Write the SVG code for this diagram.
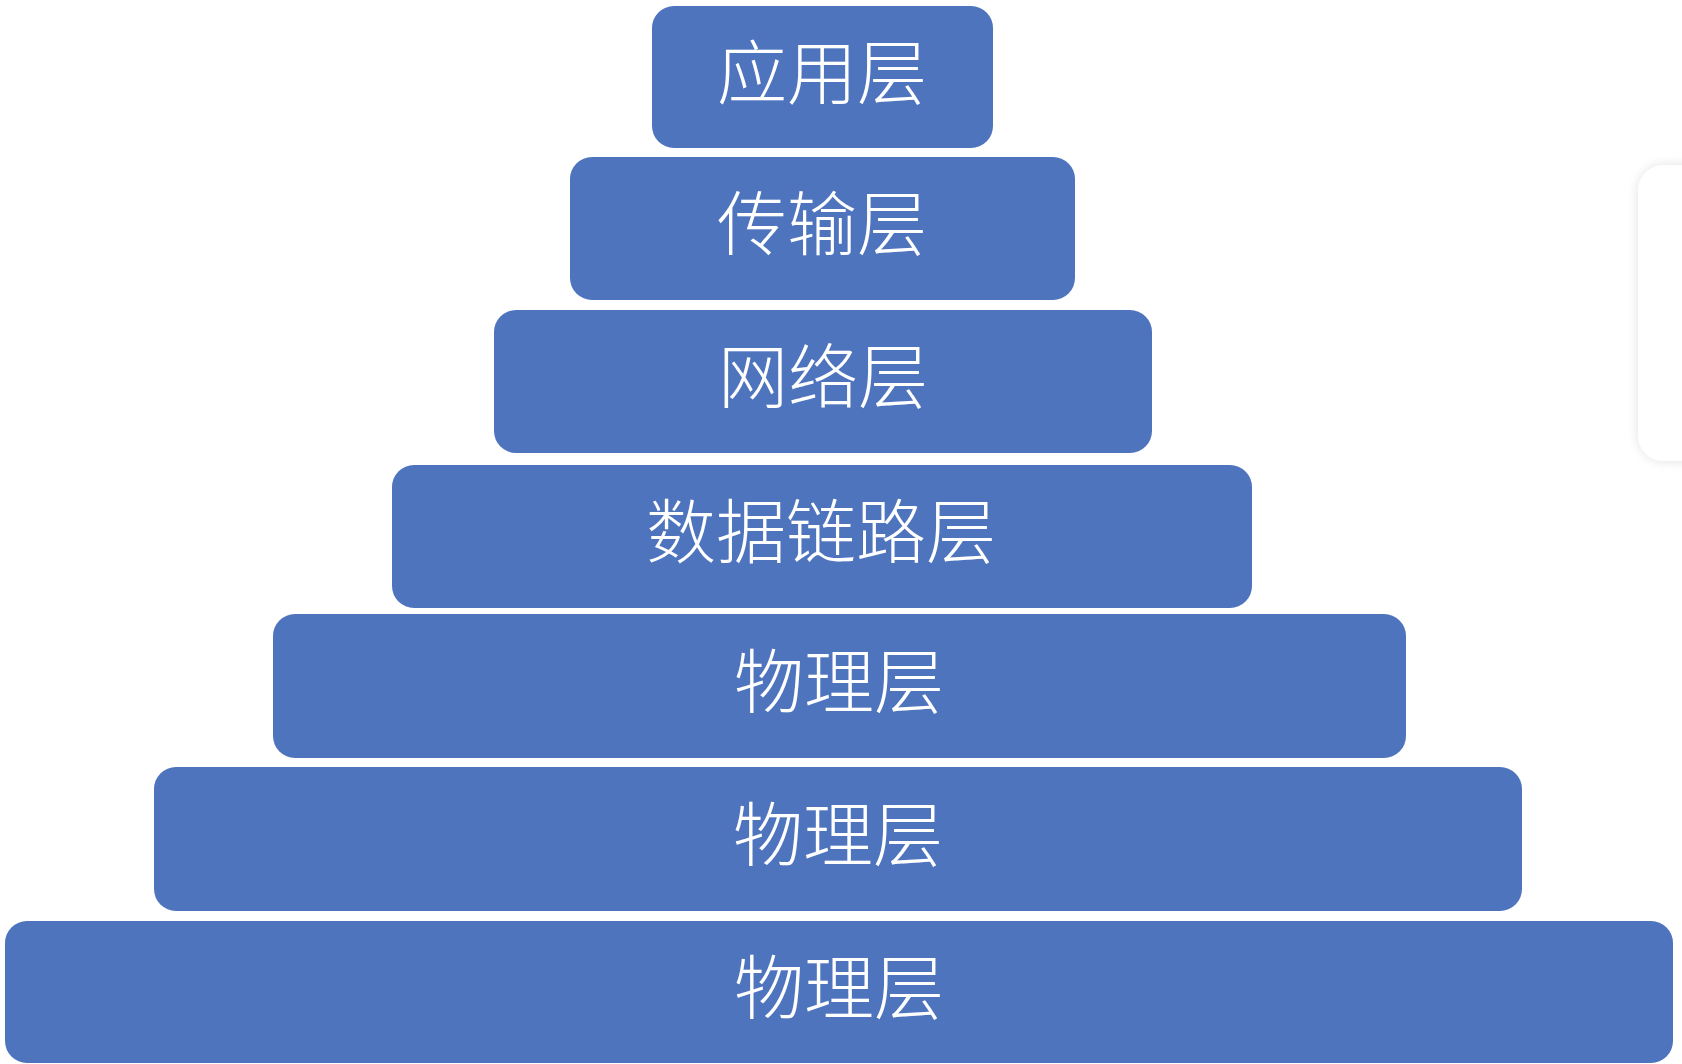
<svg xmlns="http://www.w3.org/2000/svg" width="1682" height="1064" viewBox="0 0 1682 1064">
<style>
.layer{fill:#4E74BE;}
.lbl{fill:#ffffff;font-family:"Noto Sans CJK SC","Noto Sans",sans-serif;font-size:70px;font-weight:300;text-anchor:middle;}
</style>
<defs>
<filter id="sh" x="-20%" y="-20%" width="140%" height="140%">
<feGaussianBlur in="SourceAlpha" stdDeviation="6"/>
<feComponentTransfer><feFuncA type="linear" slope="0.12"/></feComponentTransfer>
<feMerge><feMergeNode/><feMergeNode in="SourceGraphic"/></feMerge>
</filter>
</defs>
<rect x="0" y="0" width="1682" height="1064" fill="#ffffff"/>
<rect x="1638" y="165" width="80" height="296" rx="26" fill="#ffffff" filter="url(#sh)"/>
<g id="connectors"></g>
<g id="n1"><rect class="layer" x="652" y="6" width="341" height="142" rx="22"/><text class="lbl" x="822" y="99">应用层</text></g>
<g id="n2"><rect class="layer" x="570" y="157" width="505" height="143" rx="22"/><text class="lbl" x="822" y="250">传输层</text></g>
<g id="n3"><rect class="layer" x="494" y="310" width="658" height="143" rx="22"/><text class="lbl" x="823" y="403">网络层</text></g>
<g id="n4"><rect class="layer" x="392" y="465" width="860" height="143" rx="22"/><text class="lbl" x="821" y="558">数据链路层</text></g>
<g id="n5"><rect class="layer" x="273" y="614" width="1133" height="144" rx="22"/><text class="lbl" x="839" y="708">物理层</text></g>
<g id="n6"><rect class="layer" x="154" y="767" width="1368" height="144" rx="22"/><text class="lbl" x="838" y="861">物理层</text></g>
<g id="n7"><rect class="layer" x="5" y="921" width="1668" height="142" rx="22"/><text class="lbl" x="839" y="1014">物理层</text></g>
</svg>
